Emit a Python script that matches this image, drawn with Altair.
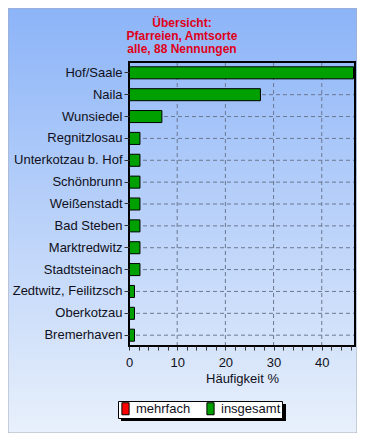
import altair as alt
import pandas as pd

orte = ["Hof/Saale", "Naila", "Wunsiedel", "Regnitzlosau", "Unterkotzau b. Hof",
        "Schönbrunn", "Weißenstadt", "Bad Steben", "Marktredwitz", "Stadtsteinach",
        "Zedtwitz, Feilitzsch", "Oberkotzau", "Bremerhaven"]
werte = [46.59, 27.27, 6.82, 2.27, 2.27, 2.27, 2.27, 2.27, 2.27, 2.27, 1.14, 1.14, 1.14]
serie = ["insgesamt"] * len(orte)
serien = ["mehrfach", "insgesamt"]
farben = ["#ff0000", "#00a000"]
titel = ["Übersicht:", "Pfarreien, Amtsorte", "alle, 88 Nennungen"]
x_ticks = list(range(0, 47, 2))
x_grid = [10, 20, 30, 40]

df = pd.DataFrame({"Ort": orte, "Wert": werte, "Serie": serie})
gdf = pd.DataFrame({"Wert": x_grid})
bg = pd.DataFrame({"k": [0]})

FONT = "Liberation Sans"
TXT = "#101020"
GRID = "#6c7890"
W, H = 226, 284

xscale = alt.Scale(domain=[0, 46.9], nice=False, zero=True)
yscale = alt.Scale(domain=orte, paddingInner=0.45, paddingOuter=0.22)

yaxis = alt.Axis(domain=False, ticks=True, tickSize=5, tickColor="#333333",
                 labelFont=FONT, labelFontSize=13, labelColor=TXT,
                 labelPadding=2, grid=False, bandPosition=0.5, zindex=1)
xaxis = alt.Axis(values=x_ticks, domain=False,
                 labelExpr="datum.value % 10 === 0 ? datum.label : ''",
                 labelOverlap=False, labelFlush=False,
                 tickSize=4, tickColor="#333333",
                 labelFont=FONT, labelFontSize=13, labelColor=TXT,
                 labelPadding=6,
                 titleFont=FONT, titleFontSize=13, titleFontWeight="normal",
                 titleColor=TXT, titlePadding=3,
                 grid=False, zindex=1)

grad = alt.Gradient(
    gradient="linear",
    stops=[alt.GradientStop(color="#8cb4f8", offset=0),
           alt.GradientStop(color="#e8f0fb", offset=1)],
    x1=0, x2=0, y1=0, y2=1,
)

background = alt.Chart(bg).mark_rect(color=grad, stroke="#a8acb8", strokeWidth=1).encode(
    x=alt.value(-121), x2=alt.value(W + 2), y=alt.value(-54), y2=alt.value(H + 87)
)

shadow = alt.Chart(bg).mark_rect(color="black").encode(
    x=alt.value(-8), x2=alt.value(157), y=alt.value(342), y2=alt.value(359)
)

hgrid = alt.Chart(df).mark_rule(color=GRID, strokeDash=[4, 3], strokeWidth=1).encode(
    y=alt.Y("Ort:N", sort=orte, title=None, scale=yscale, bandPosition=0.5, axis=yaxis),
    x=alt.value(0), x2=alt.value(W),
)

vgrid = alt.Chart(gdf).mark_rule(color=GRID, strokeDash=[4, 3], strokeWidth=1).encode(
    x=alt.X("Wert:Q", title="Häufigkeit %", scale=xscale, axis=xaxis),
    y=alt.value(0), y2=alt.value(H),
)

bars = alt.Chart(df).mark_bar(stroke="black", strokeWidth=1).encode(
    y=alt.Y("Ort:N", sort=orte, title=None, scale=yscale, axis=yaxis),
    x=alt.X("Wert:Q", title="Häufigkeit %", scale=xscale, axis=xaxis),
    color=alt.Color("Serie:N", scale=alt.Scale(domain=serien, range=farben),
                    legend=alt.Legend(title=None, orient="none", legendX=-11, legendY=339,
                                      direction="horizontal", fillColor="white",
                                      strokeColor="black", padding=1,
                                      symbolType="M-0.6,-1H0.6V1H-0.6Z",
                                      symbolSize=144, symbolStrokeColor="black",
                                      symbolStrokeWidth=1, symbolOpacity=1,
                                      labelFont=FONT, labelFontSize=13,
                                      labelColor=TXT, columnPadding=13,
                                      labelOffset=4, zindex=2)),
)

frame = alt.Chart(bg).mark_rect(fill=None, stroke="black", strokeWidth=2).encode(
    x=alt.value(0), x2=alt.value(W), y=alt.value(0), y2=alt.value(H)
)

title = alt.Chart(bg).mark_text(
    text=titel, font=FONT, fontSize=12, fontWeight="bold", color="#e00018",
    align="center", baseline="alphabetic", lineHeight=13,
).encode(x=alt.value(53), y=alt.value(-35))

chart = alt.layer(background, shadow, hgrid, vgrid, bars, frame, title).properties(
    width=W, height=H,
    padding={"left": 121, "top": 54, "right": 2, "bottom": 87},
    autosize=alt.AutoSizeParams(type="none"),
).configure_view(stroke=None, fill=None).configure(background="#dce8fa")

chart.save("out.html", embed_options={"renderer": "svg", "actions": False})
